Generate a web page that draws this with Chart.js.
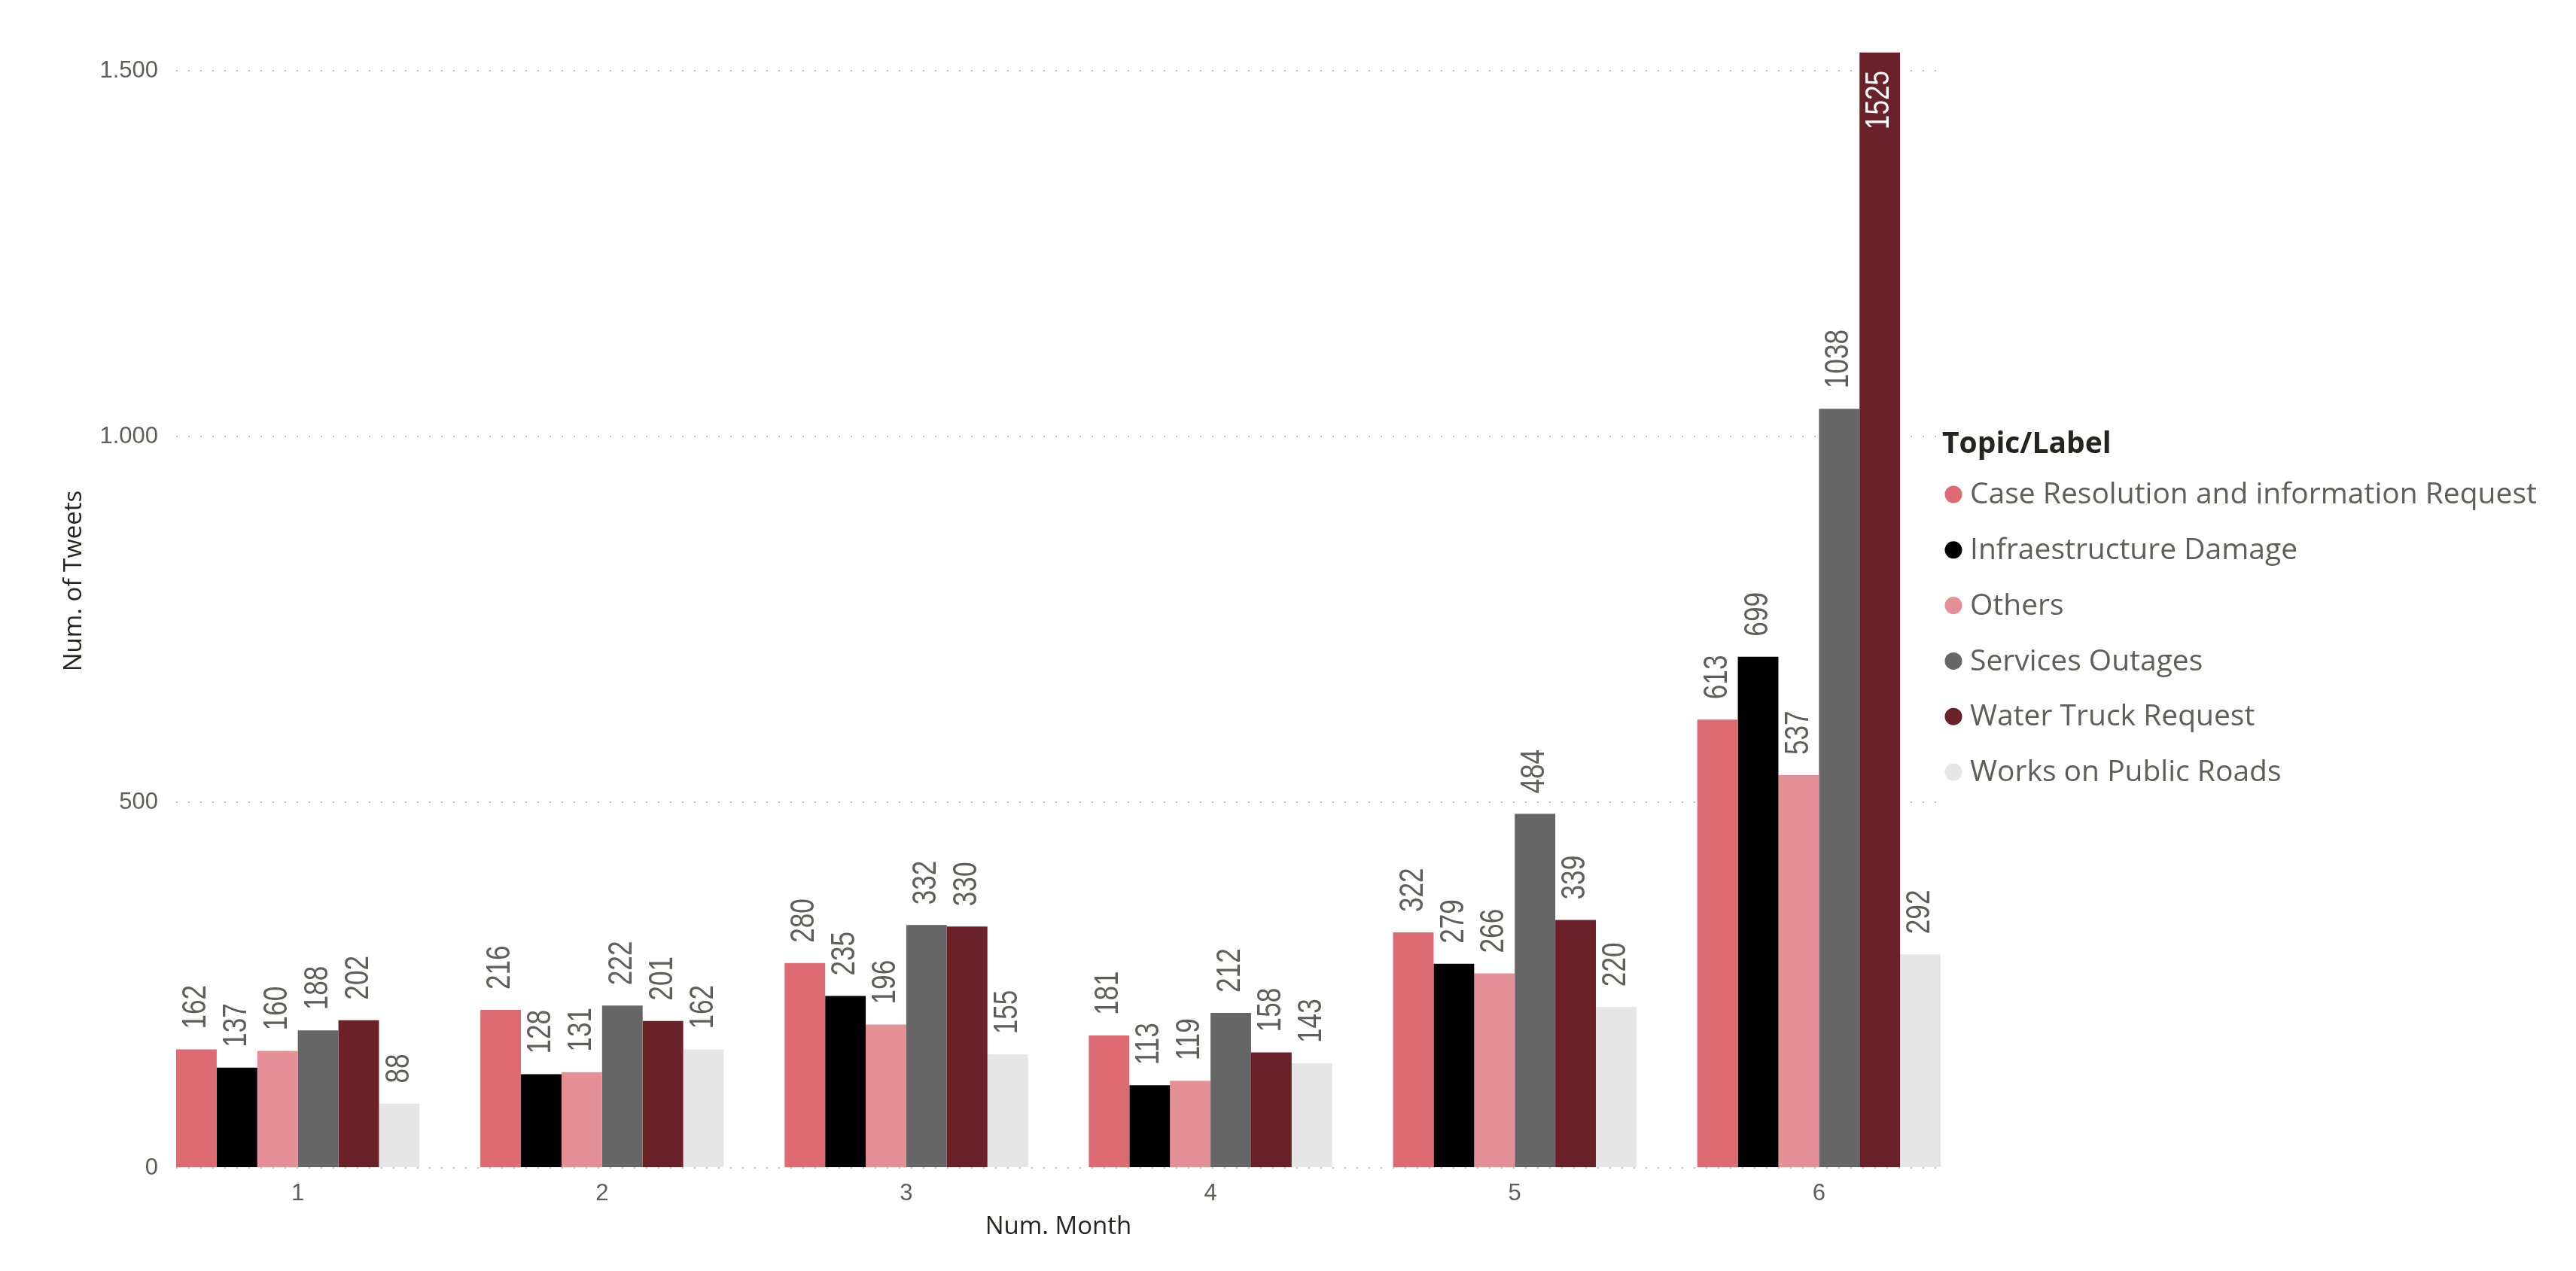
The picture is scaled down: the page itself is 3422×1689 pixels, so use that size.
<!DOCTYPE html>
<html>
<head>
<meta charset="utf-8">
<script src="https://cdn.jsdelivr.net/npm/chart.js@4/dist/chart.umd.min.js"></script>
<style>
  html, body { margin: 0; padding: 0; background: #ffffff; }
  #wrap { width: 3422px; height: 1689px; position: relative; }
  canvas { display: block; }
</style>
</head>
<body>
<div id="wrap"><canvas id="c" width="3422" height="1689"></canvas></div>
<script>
// ---------------- data ----------------
const months = [1, 2, 3, 4, 5, 6];
const monthLabels = ['1', '2', '3', '4', '5', '6'];

const seriesNames = [
  'Case Resolution and information Request',
  'Infraestructure Damage',
  'Others',
  'Services Outages',
  'Water Truck Request',
  'Works on Public Roads'
];
const caseResolution = [162, 216, 280, 181, 322, 613];
const infraDamage    = [137, 128, 235, 113, 279, 699];
const others         = [160, 131, 196, 119, 266, 537];
const servicesOut    = [188, 222, 332, 212, 484, 1038];
const waterTruck     = [202, 201, 330, 158, 339, 1525];
const publicRoads    = [88, 162, 155, 143, 220, 292];

const yTickValues = [0, 500, 1000, 1500];
const yTickLabels = ['0', '500', '1.000', '1.500'];

const seriesColors = ['#DE6A73', '#000000', '#E58F96', '#666666', '#6B2128', '#E6E6E6'];
const seriesValues = [caseResolution, infraDamage, others, servicesOut, waterTruck, publicRoads];

const xTitle = 'Num. Month';
const yTitle = 'Num. of Tweets';
const legendTitle = 'Topic/Label';

// ---------------- styles ----------------
const NUMF = "'Liberation Sans', Arial, sans-serif";
const UI = "'Open Sans', 'Noto Sans', sans-serif";
const LABEL_GRAY = '#605E5C';
const DARK = '#252423';

const datasets = seriesNames.map((name, i) => ({
  label: name,
  data: months.map((m, j) => ({ x: m, y: seriesValues[i][j] })),
  backgroundColor: seriesColors[i],
  borderWidth: 0,
  categoryPercentage: 0.8,
  barPercentage: 1.0
}));

// value labels, rotated and slightly condensed
const valueLabels = {
  id: 'valueLabels',
  afterDatasetsDraw(chart) {
    const ctx = chart.ctx;
    const area = chart.chartArea;
    const squeeze = 0.8;
    ctx.save();
    ctx.font = '44px ' + NUMF;
    ctx.textBaseline = 'middle';
    chart.data.datasets.forEach((ds, di) => {
      const meta = chart.getDatasetMeta(di);
      meta.data.forEach((bar, j) => {
        const txt = String(ds.data[j].y);
        const w = ctx.measureText(txt).width * squeeze;
        const gap = 27;
        ctx.save();
        if (bar.y - gap - w < area.top) {
          ctx.translate(bar.x, bar.y + 24);
          ctx.rotate(-Math.PI / 2);
          ctx.scale(squeeze, 1);
          ctx.textAlign = 'right';
          ctx.fillStyle = '#FFFFFF';
        } else {
          ctx.translate(bar.x, bar.y - gap);
          ctx.rotate(-Math.PI / 2);
          ctx.scale(squeeze, 1);
          ctx.textAlign = 'left';
          ctx.fillStyle = LABEL_GRAY;
        }
        ctx.fillText(txt, 0, 0);
        ctx.restore();
      });
    });
    ctx.restore();
  }
};

// y axis title + legend
const extras = {
  id: 'extras',
  afterDraw(chart) {
    const ctx = chart.ctx;
    ctx.save();
    ctx.font = '33px ' + UI;
    ctx.fillStyle = DARK;
    ctx.textAlign = 'center';
    ctx.textBaseline = 'middle';
    ctx.translate(99, 772);
    ctx.rotate(-Math.PI / 2);
    ctx.fillText(yTitle, 0, 0);
    ctx.restore();

    ctx.save();
    const lx = 2580, ty = 591, y0 = 657, step = 73.8;
    ctx.textAlign = 'left';
    ctx.textBaseline = 'middle';
    ctx.font = 'bold 39px ' + UI;
    ctx.fillStyle = DARK;
    ctx.fillText(legendTitle, lx, ty);
    ctx.font = '39px ' + UI;
    chart.data.datasets.forEach((ds, i) => {
      const y = y0 + i * step;
      ctx.beginPath();
      ctx.arc(lx + 15, y, 11.5, 0, Math.PI * 2);
      ctx.fillStyle = ds.backgroundColor;
      ctx.fill();
      ctx.fillStyle = LABEL_GRAY;
      ctx.fillText(ds.label, lx + 37, y + 1);
    });
    ctx.restore();
  }
};

new Chart(document.getElementById('c'), {
  type: 'bar',
  data: { datasets },
  plugins: [valueLabels, extras],
  options: {
    responsive: false,
    animation: false,
    devicePixelRatio: 1,
    layout: { padding: { top: 65, right: 844, left: 0, bottom: 0 } },
    plugins: {
      legend: { display: false },
      tooltip: { enabled: false }
    },
    scales: {
      x: {
        type: 'linear',
        min: 0.6,
        max: 6.4,
        offset: false,
        afterFit: (s) => { s.height = 137; },
        afterBuildTicks: (s) => { s.ticks = months.map(v => ({ value: v })); },
        grid: { display: false, drawTicks: false },
        border: { display: false },
        ticks: {
          autoSkip: false,
          maxRotation: 0,
          padding: 16,
          color: LABEL_GRAY,
          font: { family: NUMF, size: 31 },
          callback: (v) => monthLabels[months.indexOf(v)]
        },
        title: {
          display: true,
          text: xTitle,
          color: DARK,
          font: { family: UI, size: 33 },
          padding: { top: 0, bottom: 39 }
        }
      },
      y: {
        min: 0,
        max: 1530,
        afterFit: (s) => { s.width = 234; },
        afterBuildTicks: (s) => { s.ticks = yTickValues.map(v => ({ value: v })); },
        grid: { color: '#C8C6C4', lineWidth: 2, drawTicks: false },
        border: { display: false, dash: [2, 14] },
        ticks: {
          padding: 24,
          color: LABEL_GRAY,
          font: { family: NUMF, size: 31 },
          callback: (v) => yTickLabels[yTickValues.indexOf(v)]
        }
      }
    }
  }
});
</script>
</body>
</html>
